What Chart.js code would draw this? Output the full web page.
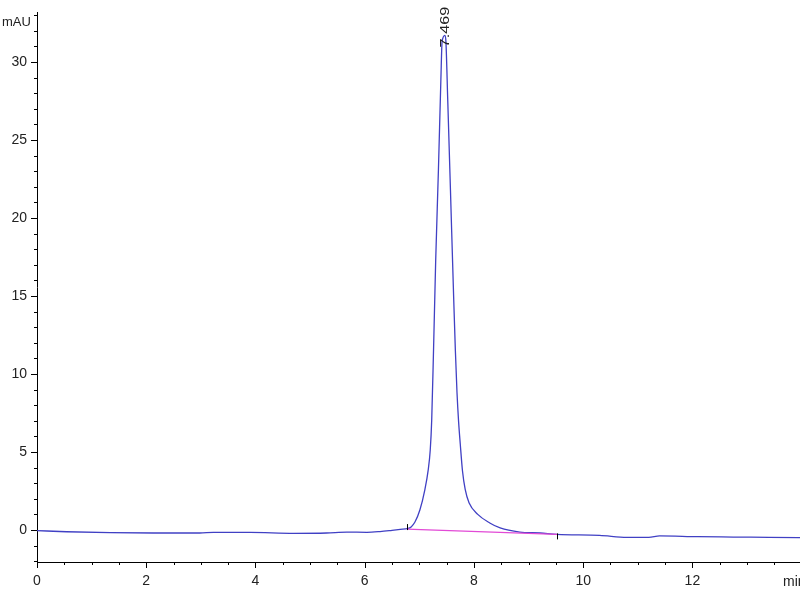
<!DOCTYPE html>
<html>
<head>
<meta charset="utf-8">
<script src="https://cdn.jsdelivr.net/npm/chart.js@4/dist/chart.umd.min.js"></script>
<style>
  html, body { margin: 0; padding: 0; background: #fff; }
  canvas { display: block; }
</style>
</head>
<body>
<canvas id="chromChart" width="800" height="600"></canvas>
<script>
// retention time (min) and detector signal (mAU)
const times = [0, 0.54, 1.34, 2.13, 2.98, 3.23, 3.9, 4.7, 5.3, 5.67, 6.04, 6.28, 6.5, 6.65, 6.79, 6.85, 6.92, 7.01, 7.1, 7.163, 7.2, 7.227, 7.26, 7.3, 7.35, 7.395, 7.417, 7.469, 7.487, 7.52, 7.57, 7.63, 7.66, 7.69, 7.72, 7.75, 7.79, 7.84, 7.91, 8.07, 8.29, 8.48, 8.84, 9.21, 9.52, 10.3, 10.8, 11.2, 11.4, 12.1, 12.75, 13.4, 13.97];
const signal = [-0.04, -0.11, -0.17, -0.19, -0.19, -0.15, -0.15, -0.21, -0.19, -0.13, -0.15, -0.1, -0.02, 0.04, 0.1, 0.2, 0.51, 1.28, 2.56, 3.85, 5.13, 7.06, 11.5, 17.3, 23.1, 28.9, 31.3, 31.7, 31.3, 27.6, 21.8, 14.75, 11.5, 8.8, 6.9, 5.5, 3.8, 2.6, 1.75, 1.0, 0.45, 0.13, -0.13, -0.19, -0.28, -0.34, -0.47, -0.47, -0.38, -0.43, -0.45, -0.47, -0.49];

// integration baseline under the peak
const baseTimes = [6.77, 9.52];
const baseSignal = [0.06, -0.28];

const peakTime = 7.469;
const peakTop = 31.7;
const peakLabel = '7.469';

const xTickValues = [0, 2, 4, 6, 8, 10, 12];
const yTickValues = [0, 5, 10, 15, 20, 25, 30];
const xMinorStep = 0.5;
const yMinorStep = 1;

const fontFamily = "'Liberation Sans', Arial, sans-serif";
const tickFont = { family: fontFamily, size: 14 };

// axis ticks, unit labels, peak label and start/end marks
const annotate = {
    id: 'annotate',
    afterDraw(chart) {
        const ctx = chart.ctx;
        const xs = chart.scales.x;
        const ys = chart.scales.y;
        const area = chart.chartArea;
        ctx.save();
        ctx.strokeStyle = '#000';
        ctx.lineWidth = 1;
        ctx.beginPath();
        for (let v = xs.min; v <= xs.max + 1e-9; v += xMinorStep) {
            const px = Math.round(xs.getPixelForValue(v)) + 0.5;
            const len = xTickValues.includes(v) ? 6 : 3;
            ctx.moveTo(px, area.bottom);
            ctx.lineTo(px, area.bottom + len);
        }
        for (let v = -2; v <= ys.max; v += yMinorStep) {
            const py = Math.round(ys.getPixelForValue(v)) + 0.5;
            const len = yTickValues.includes(v) ? 6 : 3;
            ctx.moveTo(area.left, py);
            ctx.lineTo(area.left - len, py);
        }
        // peak start / end marks
        const sx = Math.round(xs.getPixelForValue(baseTimes[0])) + 0.5;
        const sy = ys.getPixelForValue(baseSignal[0]);
        ctx.moveTo(sx, sy - 5);
        ctx.lineTo(sx, sy + 1);
        const ex = Math.round(xs.getPixelForValue(baseTimes[1])) + 0.5;
        const ey = ys.getPixelForValue(baseSignal[1]);
        ctx.moveTo(ex, ey - 1);
        ctx.lineTo(ex, ey + 5);
        ctx.stroke();

        ctx.fillStyle = '#222';
        ctx.font = '13px ' + fontFamily;
        ctx.textBaseline = 'middle';
        ctx.textAlign = 'left';
        ctx.fillText('mAU', 2, 22);
        ctx.font = '14px ' + fontFamily;
        ctx.fillText('min', 783, 582);

        // rotated retention time label above the apex
        const lx = xs.getPixelForValue(peakTime);
        const ly = ys.getPixelForValue(peakTop) + 12;
        ctx.translate(lx, ly);
        ctx.rotate(-Math.PI / 2);
        ctx.scale(1.25, 1);
        ctx.font = '13px ' + fontFamily;
        ctx.textAlign = 'left';
        ctx.textBaseline = 'middle';
        ctx.fillText(peakLabel, 0, 0);
        ctx.restore();
    }
};

const ctx = document.getElementById('chromChart').getContext('2d');

const chromChart = new Chart(ctx, {
    type: 'line',
    data: {
        datasets: [{
            label: 'Baseline',
            data: baseTimes.map((t, i) => ({ x: t, y: baseSignal[i] })),
            borderColor: '#e24ad6',
            borderWidth: 1.3,
            pointRadius: 0,
            fill: false
        }, {
            label: 'Signal',
            data: times.map((t, i) => ({ x: t, y: signal[i] })),
            borderColor: '#4040c4',
            borderWidth: 1.3,
            pointRadius: 0,
            cubicInterpolationMode: 'monotone',
            fill: false
        }]
    },
    options: {
        responsive: false,
        animation: false,
        layout: {
            padding: { top: 12, right: 0, left: 0, bottom: 0 }
        },
        plugins: {
            legend: { display: false },
            tooltip: { enabled: false }
        },
        scales: {
            x: {
                type: 'linear',
                min: 0,
                max: 13.97,
                grid: { display: false, drawTicks: false },
                border: { display: true, color: '#000', width: 1 },
                ticks: { font: tickFont, color: '#222', padding: 11, maxRotation: 0 },
                afterBuildTicks: scale => { scale.ticks = xTickValues.map(v => ({ value: v })); },
                afterFit: scale => {
                    scale.height = 38;
                    scale.paddingLeft = 0;
                    scale.paddingRight = 0;
                }
            },
            y: {
                type: 'linear',
                min: -2.05,
                max: 33.2,
                grid: { display: false, drawTicks: false },
                border: { display: true, color: '#000', width: 1 },
                ticks: { font: tickFont, color: '#222', padding: 10 },
                afterBuildTicks: scale => { scale.ticks = yTickValues.map(v => ({ value: v })); },
                afterFit: scale => {
                    scale.width = 37;
                    scale.paddingTop = 0;
                    scale.paddingBottom = 0;
                }
            }
        }
    },
    plugins: [annotate]
});
</script>
</body>
</html>
